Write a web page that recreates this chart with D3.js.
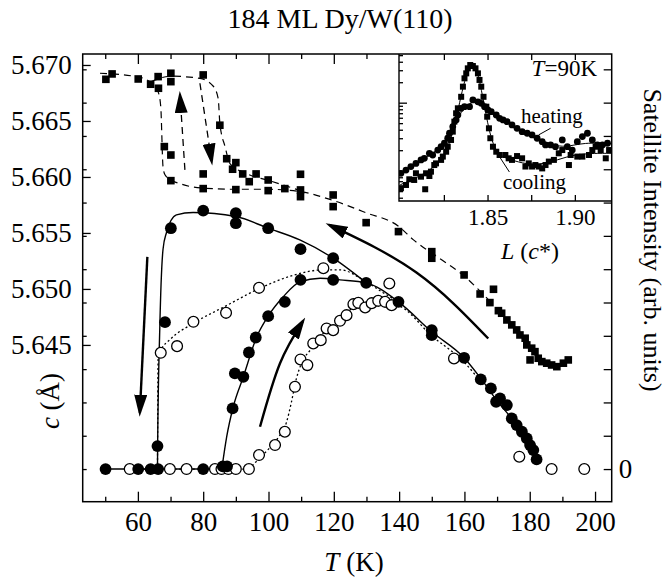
<!DOCTYPE html>
<html>
<head>
<meta charset="utf-8">
<script src="https://cdn.jsdelivr.net/npm/d3@7"></script>
<style>
body { margin: 0; background: #fff; }
text { font-family: "Liberation Serif", "Times New Roman", serif; fill: #000; }
</style>
</head>
<body>
<div class="chart"></div>
<script>

// ---- main panel data: [T (K), value] ----

// lattice constant c (left axis), filled squares
const squaresTc = [
    [50.2,5.66872],[52.1,5.66920],[60.1,5.66875],[63.9,5.66828],[66.2,5.66896],[66.3,5.66792],
    [70.1,5.66926],[70.1,5.66851],[80.0,5.66911],[68.1,5.66271],[70.1,5.66196],[70.1,5.65967],
    [80.0,5.66027],[80.0,5.65896],[85.1,5.66462],[87.2,5.66163],[90.0,5.66128],[89.0,5.66069],
    [92.1,5.66027],[94.1,5.65958],[96.2,5.66027],[90.0,5.65887],[99.9,5.65973],[99.9,5.65878],
    [105.0,5.65896],[109.8,5.66024],[109.8,5.65884],[109.8,5.65824],[119.8,5.65839],[119.8,5.65735],
    [129.9,5.65592],[139.8,5.65512],[150.0,5.65333],[150.0,5.65274],[159.9,5.65125],[164.8,5.64955],
    [168.9,5.64997],[167.8,5.64878],[170.4,5.64806],[171.4,5.64783],[173.0,5.64723],[174.5,5.64679],
    [176.0,5.64634],[177.0,5.64589],[178.6,5.64560],[179.1,5.64500],[180.6,5.64471],[181.6,5.64440],
    [180.1,5.64366],[182.6,5.64381],[183.7,5.64351],[185.2,5.64337],[186.7,5.64321],[188.3,5.64306],
    [190.3,5.64337],[191.8,5.64366]
];

// satellite intensity (right axis), filled circles
const filledTI = [
    [50.1,0],[60.1,0],[63.9,0],[66.2,0],[66.0,0.69],[68.3,4.41],[70.1,7.23],[80.0,0],[86.0,0.08],[87.3,0.08],
    [89.0,1.82],[89.7,2.87],[92.3,2.77],[94.0,3.50],[96.1,3.95],[99.9,4.59],[105.0,5.02],[109.8,5.68],
    [119.8,5.68],[129.9,5.59],[139.8,5.02],[150.0,4.17],[150.0,4.02],[159.9,3.34],[165.0,2.69],[168.1,2.42],
    [169.7,2.02],[170.9,2.12],[173.0,1.92],[174.5,1.52],[176.0,1.32],[177.6,1.12],[179.1,0.92],[180.1,0.72],
    [181.1,0.57],[182.1,0.29],[80.0,7.76],[90.0,7.68],[90.0,7.38],[99.9,7.23],[109.8,6.60],[119.8,6.33]
];

// satellite intensity, open circles
const openTI = [
    [57.5,0],[69.8,0],[74.9,0],[83.6,0],[85.6,0],[87.7,0],[90.0,0],[94.0,0],[97.1,0.42],[102.0,0.72],
    [105.0,1.12],[108.1,2.47],[109.8,3.29],[111.9,3.12],[113.7,3.77],[116.0,3.87],[117.8,4.22],[119.8,4.17],
    [121.9,4.45],[123.9,4.62],[126.0,4.95],[127.5,4.99],[129.6,4.85],[131.6,4.98],[133.6,5.05],[135.7,5.02],
    [137.7,4.92],[67.0,3.49],[72.0,3.69],[77.0,4.42],[87.0,4.69],[97.1,5.44],[116.8,6.03],[137.0,5.57],
    [156.8,3.32],[176.8,0.37],[186.7,0],[196.7,0]
];

// guide lines drawn in the figure
const solidBase = [[50,0],[86,0]];
const coolFit = [[66,0],[66.05,0.7],[66.7,4.2],[67.7,6.6],[68.7,7.08],[71.8,7.63],[76.9,7.7],[90,7.58],
    [99.9,7.23],[109.6,6.88],[119.8,6.33],[129.9,5.59]];
const heatFit = [[85.7,0],[87.2,0.97],[89.2,1.87],[92.3,2.77],[96.4,3.97],[99.9,4.59],[104.5,5.17],
    [109.6,5.62],[115.8,5.73],[121.9,5.68],[129.9,5.59],[139.8,5.02],[150,4.12],[159.9,3.34],[165,2.72],
    [170,2.05],[175,1.45],[180,0.75],[182.1,0.29]];
const dottedBase = [[57.5,0],[94,0]];
const openHeatFit = [[94,0],[97,0.3],[100,0.6],[103,0.95],[105.5,1.4],[107,2.0],[108.5,2.7],[110,3.15],
    [113,3.6],[116,4.0],[120,4.3],[124,4.7],[128,4.95],[133,5.05],[137,4.97],[140,4.9],[150,4.0],[160,3.2],[166,2.5]];
const openCoolFit = [[66,0],[66.2,3.3],[67,3.55],[70,3.9],[76.9,4.37],[87,4.9],[97.4,5.43],[107,5.8],
    [116.8,5.98],[122,5.98],[129,5.68],[135,5.3],[139.8,5.02]];
const dashA = [[48.4,5.66926],[60.6,5.6689],[64,5.6684],[66.2,5.6676],[67,5.6663],[67.7,5.6609],[68.3,5.6602],
    [70,5.65975],[72.9,5.6594],[80,5.6590],[90,5.6589],[99.9,5.6589],[109.6,5.6587],[119.8,5.6579],[129.9,5.6568],
    [139.8,5.6556],[144.3,5.6544],[152.5,5.6527],[159.7,5.6512],[164.8,5.6498],[167.8,5.6489]];
const dashB = [[64,5.6685],[70.1,5.6690],[79,5.6688],[83.1,5.6681],[84.6,5.6670],[85.1,5.6648],[86.7,5.6627],
    [88.2,5.6612],[93.3,5.6603],[99.9,5.6597],[109.6,5.6588]];

// arrows: dashed ones in (T, c), solid ones in (T, I)
const arrowUpDashed = [[74.4,5.66063],[72.9,5.66732]];
const arrowDownDashed = [[79.0,5.66837],[82.6,5.66137]];
const arrowBig = [[167.3,3.92],[145.3,5.9],[118.6,7.33]];
const arrowDown = [[62.9,6.37],[60.6,1.69]];
const arrowUp = [[97.4,1.27],[103.5,3.17],[110.6,4.45]];

// tick values
const cTicks = [5.645, 5.650, 5.655, 5.660, 5.665, 5.670];
const tMajor = [60, 80, 100, 120, 140, 160, 180, 200];
const tMinor = [50, 70, 90, 110, 130, 150, 170, 190];
const iTicks = d3.range(0, 13);

// ---- inset data: [L (c*), intensity] ----
const insetCooling = [
    [1.8004,0.551],[1.8033,0.616],[1.8052,0.747],[1.8080,0.730],[1.8090,0.915],[1.8119,0.816],[1.8143,0.533],
    [1.8148,0.915],[1.8167,0.835],[1.8176,0.967],[1.8195,1.21],[1.8205,1.28],[1.8234,1.44],[1.8244,1.61],
    [1.8263,1.90],[1.8272,2.25],[1.8291,2.83],[1.8301,3.75],[1.8310,5.26],[1.8320,6.98],[1.8330,8.27],
    [1.8349,12.2],[1.8359,17.2],[1.8368,22.8],[1.8378,27.0],[1.8387,32.0],[1.8401,35.8],[1.8416,34.6],
    [1.8431,32.0],[1.8445,27.0],[1.8454,21.6],[1.8464,17.2],[1.8477,12.2],[1.8493,8.73],[1.8498,6.22],
    [1.8508,4.20],[1.8516,3.0],[1.8531,2.25],[1.8550,1.90],[1.8569,1.70],[1.8602,1.70],[1.8621,1.52],
    [1.8640,1.44],[1.8669,1.64],[1.8698,1.52],[1.8717,1.15],[1.8736,1.28],[1.8755,1.15],[1.8774,1.21],
    [1.8793,1.15],[1.8813,1.08],[1.8832,1.21],[1.8851,1.36],[1.8880,1.44],[1.8908,1.80],[1.8928,2.01],
    [1.8966,1.21],[1.8976,1.70],[1.9014,1.61],[1.9043,1.61],[1.9081,1.70],[1.9100,2.01],[1.9119,2.25],
    [1.9148,2.01],[1.9177,1.52],[1.9196,2.01]
];
const insetHeating = [
    [1.8004,0.915],[1.8033,1.02],[1.8061,1.15],[1.8090,1.28],[1.8119,1.44],[1.8138,1.52],[1.8167,1.80],
    [1.8186,1.70],[1.8215,2.01],[1.8234,2.25],[1.8253,2.53],[1.8272,3.0],[1.8282,3.55],[1.8301,4.44],
    [1.8320,5.57],[1.8330,6.59],[1.8349,8.27],[1.8368,8.73],[1.8397,8.73],[1.8416,10.96],[1.8445,10.3],
    [1.8464,9.79],[1.8483,8.73],[1.8502,7.81],[1.8521,7.37],[1.8550,6.59],[1.8569,5.88],[1.8589,5.57],
    [1.8612,5.26],[1.8640,4.70],[1.8669,4.20],[1.8698,3.75],[1.8727,3.55],[1.8755,3.35],[1.8784,3.0],
    [1.8813,2.67],[1.8832,2.39],[1.8861,2.39],[1.8889,2.25],[1.8928,2.83],[1.8957,2.25],[1.8985,2.01],
    [1.9014,2.67],[1.9043,3.17],[1.9072,3.55],[1.9100,2.83],[1.9129,2.39],[1.9158,2.39],[1.9187,2.53]
];
const insetCoolFit = [[1.800,0.62],[1.810,0.8],[1.818,1.05],[1.824,1.5],[1.828,2.4],[1.831,4.5],[1.834,10],
    [1.837,22],[1.8395,33],[1.841,36],[1.843,33],[1.845,24],[1.847,13],[1.849,7],[1.851,3.8],[1.854,2.1],
    [1.858,1.6],[1.865,1.4],[1.875,1.2],[1.885,1.3],[1.895,1.6],[1.905,1.8],[1.921,1.8]];
const insetHeatFit = [[1.800,0.9],[1.810,1.3],[1.818,1.75],[1.824,2.3],[1.828,3.1],[1.832,5.0],[1.835,7.5],
    [1.838,8.8],[1.841,10.3],[1.844,10.4],[1.847,9.4],[1.850,7.9],[1.855,6.4],[1.862,5.0],[1.870,3.8],
    [1.878,3.0],[1.886,2.4],[1.895,2.2],[1.905,2.6],[1.921,2.5]];
const insetLTicks = [1.825, 1.85, 1.875, 1.90];
const insetLLabels = [1.85, 1.90];
const insetYMajor = [1, 10];
const insetYMinor = [0.4,0.5,0.6,0.7,0.8,0.9,2,3,4,5,6,7,8,9,20,30,40,50];


function DyChart(container) {

    const width = 666, height = 579;
    const left = 82.7, right = 611.7, top = 54, bottom = 501.7;

    const svg = d3.select(container)
        .append("svg")
        .attr("width", width)
        .attr("height", height);

    // scales
    const x = d3.scaleLinear().domain([43.1, 205.1]).range([left, right]);
    const yC = d3.scaleLinear().domain([5.6310, 5.67098]).range([bottom, top]);
    const yI = d3.scaleLinear().domain([-0.98, 12.46]).range([bottom, top]);

    const defs = svg.append("defs");
    defs.append("clipPath").attr("id", "plot-clip")
        .append("rect").attr("x", left).attr("y", top)
        .attr("width", right - left).attr("height", bottom - top);
    defs.append("marker")
        .attr("id", "head")
        .attr("markerUnits", "userSpaceOnUse")
        .attr("viewBox", "0 0 22 13")
        .attr("markerWidth", 22).attr("markerHeight", 13)
        .attr("refX", 18).attr("refY", 6.5)
        .attr("orient", "auto")
        .append("path")
        .attr("d", "M0,0L22,6.5L0,13Z")
        .attr("fill", "#000").attr("stroke", "none");

    const plot = svg.append("g").attr("clip-path", "url(#plot-clip)");

    const lineC = d3.line().x(d => x(d[0])).y(d => yC(d[1])).curve(d3.curveMonotoneX);
    const lineI = d3.line().x(d => x(d[0])).y(d => yI(d[1])).curve(d3.curveMonotoneX);

    // dashed lines through the squares
    [dashA, dashB].forEach(data => {
        plot.append("path").datum(data).attr("d", lineC)
            .attr("fill", "none").attr("stroke", "#000")
            .attr("stroke-width", 1.2).attr("stroke-dasharray", "7,5");
    });

    // dotted fits for open circles
    [dottedBase, openHeatFit, openCoolFit].forEach(data => {
        plot.append("path").datum(data).attr("d", lineI)
            .attr("fill", "none").attr("stroke", "#000")
            .attr("stroke-width", 1.3).attr("stroke-dasharray", "2,2.5");
    });

    // solid fits for filled circles
    [solidBase, coolFit, heatFit].forEach(data => {
        plot.append("path").datum(data).attr("d", lineI)
            .attr("fill", "none").attr("stroke", "#000").attr("stroke-width", 1.4);
    });

    // arrows
    const arrowC = d3.line().x(d => x(d[0])).y(d => yC(d[1]));
    const arrowI = d3.line().x(d => x(d[0])).y(d => yI(d[1])).curve(d3.curveNatural);
    [arrowUpDashed, arrowDownDashed].forEach(data => {
        plot.append("path").datum(data).attr("d", arrowC)
            .attr("fill", "none").attr("stroke", "#000").attr("stroke-width", 1.3)
            .attr("stroke-dasharray", "7,5").attr("marker-end", "url(#head)");
    });
    [arrowBig, arrowDown, arrowUp].forEach(data => {
        plot.append("path").datum(data).attr("d", arrowI)
            .attr("fill", "none").attr("stroke", "#000").attr("stroke-width", 2.4)
            .attr("marker-end", "url(#head)");
    });

    // markers
    plot.selectAll(".sq").data(squaresTc).join("rect")
        .attr("class", "sq")
        .attr("x", d => x(d[0]) - 3.8).attr("y", d => yC(d[1]) - 3.8)
        .attr("width", 7.6).attr("height", 7.6).attr("fill", "#000");
    plot.selectAll(".oc").data(openTI).join("circle")
        .attr("class", "oc")
        .attr("cx", d => x(d[0])).attr("cy", d => yI(d[1])).attr("r", 5.4)
        .attr("fill", "#fff").attr("stroke", "#000").attr("stroke-width", 1.3);
    plot.selectAll(".fc").data(filledTI).join("circle")
        .attr("class", "fc")
        .attr("cx", d => x(d[0])).attr("cy", d => yI(d[1])).attr("r", 5.9)
        .attr("fill", "#000");

    // ---- inset ----
    const iLeft = 399, iBottom = 201;
    const ix = d3.scaleLinear().domain([1.7993, 1.9211]).range([iLeft, right]);
    const iy = d3.scaleLog().domain([0.358, 52]).range([iBottom, top]);

    defs.append("clipPath").attr("id", "inset-clip")
        .append("rect").attr("x", iLeft).attr("y", top)
        .attr("width", right - iLeft).attr("height", iBottom - top);

    svg.append("rect")
        .attr("x", iLeft).attr("y", top)
        .attr("width", right - iLeft).attr("height", iBottom - top)
        .attr("fill", "#fff");

    const inset = svg.append("g").attr("clip-path", "url(#inset-clip)");
    const insetLine = d3.line().x(d => ix(d[0])).y(d => iy(d[1])).curve(d3.curveBasis);
    [insetCoolFit, insetHeatFit].forEach(data => {
        inset.append("path").datum(data).attr("d", insetLine)
            .attr("fill", "none").attr("stroke", "#000").attr("stroke-width", 1);
    });
    inset.selectAll(".isq").data(insetCooling).join("rect")
        .attr("class", "isq")
        .attr("x", d => ix(d[0]) - 3).attr("y", d => iy(d[1]) - 3)
        .attr("width", 6).attr("height", 6).attr("fill", "#000");
    inset.selectAll(".ic").data(insetHeating).join("circle")
        .attr("class", "ic")
        .attr("cx", d => ix(d[0])).attr("cy", d => iy(d[1])).attr("r", 3.4)
        .attr("fill", "#000");

    // leader lines for the inset labels
    const leaders = [[[1.8792,3.35],[1.8861,4.2]], [[1.8573,1.54],[1.8625,0.957]]];
    leaders.forEach(data => {
        inset.append("path").datum(data)
            .attr("d", d3.line().x(d => ix(d[0])).y(d => iy(d[1])))
            .attr("stroke", "#000").attr("stroke-width", 1);
    });

    // inset frame and ticks
    svg.append("path")
        .attr("d", `M${iLeft},${top}V${iBottom}H${right}`)
        .attr("fill", "none").attr("stroke", "#000").attr("stroke-width", 1.4);

    svg.append("g")
        .attr("transform", `translate(0,${iBottom})`)
        .style("font-size", "23px")
        .call(d3.axisBottom(ix).tickValues(insetLTicks).tickSize(-6).tickPadding(8)
            .tickFormat(d => insetLLabels.includes(d) ? d3.format(".2f")(d) : ""));
    svg.append("g")
        .attr("transform", `translate(0,${top})`)
        .call(d3.axisTop(ix).tickValues(insetLTicks).tickSize(-6).tickFormat(""));
    svg.append("g")
        .attr("transform", `translate(${iLeft},0)`)
        .call(d3.axisLeft(iy).tickValues(insetYMajor).tickSize(-8).tickFormat(""));
    svg.append("g")
        .attr("transform", `translate(${iLeft},0)`)
        .call(d3.axisLeft(iy).tickValues(insetYMinor).tickSize(-4).tickFormat(""));

    // inset texts
    const tLabel = svg.append("text")
        .attr("x", 597).attr("y", 76)
        .attr("text-anchor", "end").style("font-size", "23px");
    tLabel.append("tspan").style("font-style", "italic").text("T");
    tLabel.append("tspan").text("=90K");

    svg.append("text").attr("x", 521).attr("y", 123)
        .style("font-size", "21px").text("heating");
    svg.append("text").attr("x", 503).attr("y", 189)
        .style("font-size", "21px").text("cooling");

    const lLabel = svg.append("text")
        .attr("x", 530).attr("y", 259)
        .attr("text-anchor", "middle").style("font-size", "24px");
    lLabel.append("tspan").style("font-style", "italic").text("L");
    lLabel.append("tspan").text(" (");
    lLabel.append("tspan").style("font-style", "italic").text("c");
    lLabel.append("tspan").text("*)");

    // ---- main axes ----
    svg.append("rect")
        .attr("x", left).attr("y", top)
        .attr("width", right - left).attr("height", bottom - top)
        .attr("fill", "none").attr("stroke", "#000").attr("stroke-width", 1.5);

    svg.append("g")
        .attr("transform", `translate(${left},0)`)
        .style("font-size", "27px")
        .call(d3.axisLeft(yC).tickValues(cTicks).tickSize(-8).tickPadding(11)
            .tickFormat(d3.format(".3f")));
    svg.append("g")
        .attr("transform", `translate(${left},0)`)
        .call(d3.axisLeft(yI).tickValues(iTicks).tickSize(-4).tickFormat(""));
    svg.append("g")
        .attr("transform", `translate(${right},0)`)
        .style("font-size", "27px")
        .call(d3.axisRight(yI).tickValues(iTicks).tickSize(-8).tickPadding(7)
            .tickFormat(d => d === 0 ? "0" : ""));

    svg.append("g")
        .attr("transform", `translate(0,${bottom})`)
        .style("font-size", "27px")
        .call(d3.axisBottom(x).tickValues(tMajor).tickSize(-10).tickPadding(10));
    svg.append("g")
        .attr("transform", `translate(0,${bottom})`)
        .call(d3.axisBottom(x).tickValues(tMinor).tickSize(-5).tickFormat(""));
    svg.append("g")
        .attr("transform", `translate(0,${top})`)
        .call(d3.axisTop(x).tickValues(tMajor.filter(d => d < 140)).tickSize(-10).tickFormat(""));
    svg.append("g")
        .attr("transform", `translate(0,${top})`)
        .call(d3.axisTop(x).tickValues(tMinor.filter(d => d < 140)).tickSize(-5).tickFormat(""));

    // all axis domain lines are covered by the frame
    svg.selectAll(".domain").remove();
    svg.selectAll(".tick line").attr("stroke-width", 1.3);
    svg.selectAll(".tick text").style("font-family", "\"Liberation Serif\", \"Times New Roman\", serif");

    // titles
    svg.append("text")
        .attr("x", 340).attr("y", 28)
        .attr("text-anchor", "middle").style("font-size", "28px")
        .text("184 ML Dy/W(110)");

    const xLabel = svg.append("text")
        .attr("x", 354).attr("y", 571)
        .attr("text-anchor", "middle").style("font-size", "27px");
    xLabel.append("tspan").style("font-style", "italic").text("T");
    xLabel.append("tspan").text(" (K)");

    const yLabel = svg.append("text")
        .attr("transform", "translate(59,401) rotate(-90)")
        .attr("text-anchor", "middle").style("font-size", "27px");
    yLabel.append("tspan").style("font-style", "italic").text("c");
    yLabel.append("tspan").text(" (Å)");

    svg.append("text")
        .attr("transform", "translate(644,240) rotate(90)")
        .attr("text-anchor", "middle").style("font-size", "26px")
        .text("Satellite Intensity (arb. units)");

    return svg;
}

DyChart(".chart");
</script>
</body>
</html>
